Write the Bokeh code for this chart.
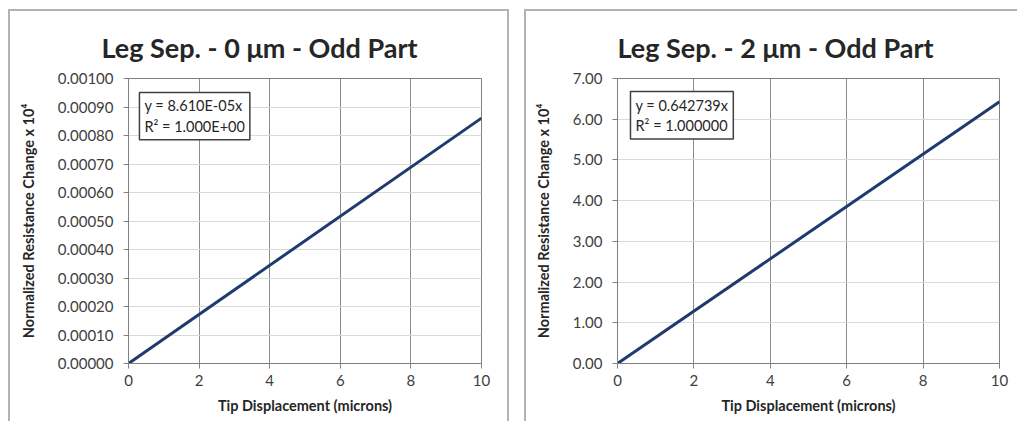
from bokeh.plotting import figure
from bokeh.layouts import row
from bokeh.models import Range1d, FixedTicker, NumeralTickFormatter, Label
from bokeh.embed import file_html
from bokeh.resources import INLINE

# ---- data ----
x_disp = [0, 10]
left_y = [0.0, 0.000861]
right_y = [0.0, 6.42739]
x_ticks = [0, 2, 4, 6, 8, 10]
left_y_ticks = [0.0, 0.0001, 0.0002, 0.0003, 0.0004, 0.0005, 0.0006, 0.0007, 0.0008, 0.0009, 0.001]
right_y_ticks = [0.0, 1.0, 2.0, 3.0, 4.0, 5.0, 6.0, 7.0]
left_title = "Leg Sep. - 0 \u03bcm - Odd Part"
right_title = "Leg Sep. - 2 \u03bcm - Odd Part"
x_label = "Tip Displacement (microns)"
y_label = "Normalized Resistance Change x 10\u2074"
left_eq = "y = 8.610E-05x\nR\u00b2 = 1.000E+00"
right_eq = "y = 0.642739x\nR\u00b2 = 1.000000"

FONT = "Lato"
LINE_COLOR = "#1f3a6d"


def make_panel(title, title_offset, ys, yticks, ymax, yfmt, eq, eq_x, eq_y, width,
               mleft, mright, mtop, mbottom, borders):
    p = figure(width=width, height=412, output_backend="svg", toolbar_location=None,
               x_range=Range1d(0, 10), y_range=Range1d(0, ymax),
               min_border_left=mleft, min_border_right=mright,
               min_border_top=mtop, min_border_bottom=mbottom,
               styles=borders)
    p.title.text = title
    p.title.text_font = FONT
    p.title.text_font_size = "27px"
    p.title.text_font_style = "bold"
    p.title.text_color = "#262626"
    p.title.align = "left"
    p.title.vertical_align = "bottom"
    p.title.offset = title_offset
    p.title.standoff = 30

    p.line(x_disp, ys, line_color=LINE_COLOR, line_width=3)

    p.outline_line_color = "#808080"
    p.outline_line_width = 1

    for ax in (p.xaxis[0], p.yaxis[0]):
        ax.axis_line_color = "#808080"
        ax.major_tick_line_color = "#808080"
        ax.major_tick_out = 5
        ax.major_tick_in = 0
        ax.minor_tick_line_color = None
        ax.major_label_text_font = FONT
        ax.major_label_text_font_size = "15px"
        ax.major_label_text_color = "#404040"
        ax.axis_label_text_font = FONT
        ax.axis_label_text_font_size = "14.5px"
        ax.axis_label_text_font_style = "bold"
        ax.axis_label_text_color = "#262626"

    p.xaxis.ticker = FixedTicker(ticks=x_ticks)
    p.yaxis.ticker = FixedTicker(ticks=yticks)
    p.yaxis.formatter = NumeralTickFormatter(format=yfmt)
    p.xaxis.axis_label = x_label
    p.yaxis.axis_label = y_label
    p.xaxis.major_label_standoff = 6
    p.yaxis.major_label_standoff = 10
    p.xaxis.axis_label_standoff = 8
    p.yaxis.axis_label_standoff = 18

    p.xgrid.grid_line_color = "#8c8c8c"
    p.xgrid.grid_line_width = 1
    p.ygrid.grid_line_color = "#d9d9d9"
    p.ygrid.grid_line_width = 1

    lab = Label(x=eq_x, y=eq_y, text=eq, anchor="top_left",
                text_font=FONT, text_font_size="14.5px", text_color="#262626",
                padding=5, border_line_color="#404040", border_line_width=1.5,
                background_fill_color="white")
    p.add_layout(lab)
    return p


border_color = "2px solid #b3b3b3"
left = make_panel(left_title, -27, left_y, left_y_ticks, 0.001, "0.00000",
                  left_eq, 0.31, 0.000951,
                  width=501, mleft=118, mright=30, mtop=67, mbottom=60,
                  borders={"border-top": border_color, "border-left": border_color,
                           "border-right": border_color})
left.margin = (9, 0, 0, 8)

right = make_panel(right_title, 0, right_y, right_y_ticks, 7.0, "0.00",
                   right_eq, 0.34, 6.68,
                   width=493, mleft=91, mright=20, mtop=67, mbottom=59,
                   borders={"border-top": border_color, "border-left": border_color})
right.margin = (9, 0, 0, 15)

layout = row(left, right)
open("out.html", "w").write(file_html(layout, INLINE))
